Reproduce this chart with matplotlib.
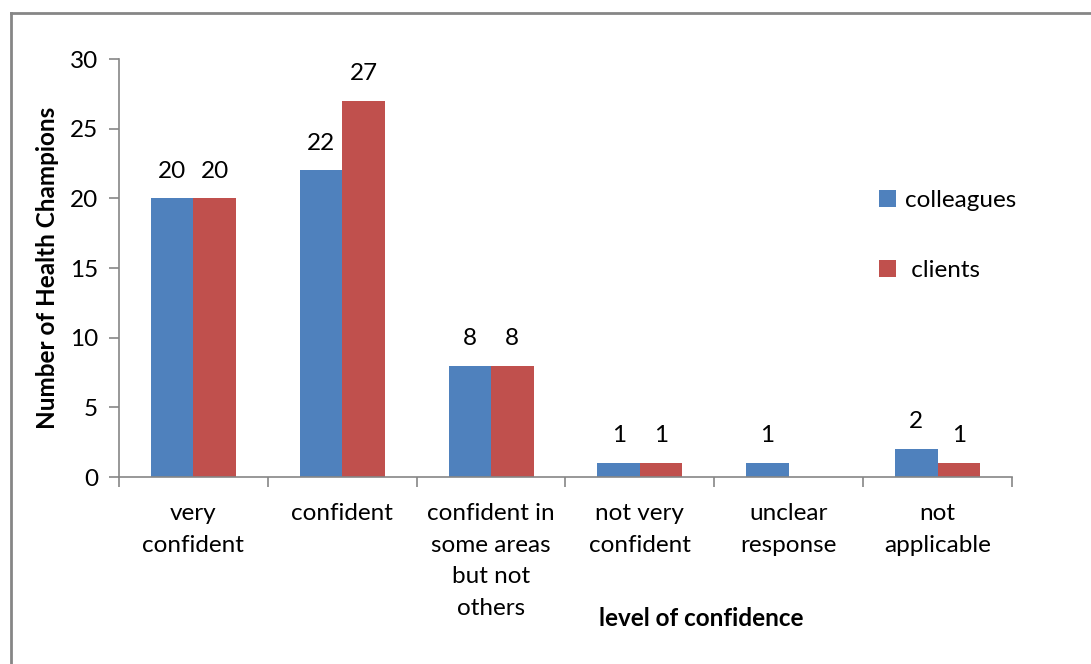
import numpy as np
import matplotlib.pyplot as plt
from matplotlib.lines import Line2D

categories = ["very\nconfident", "confident", "confident in\nsome areas\nbut not\nothers",
              "not very\nconfident", "unclear\nresponse", "not\napplicable"]
colleagues = [20, 22, 8, 1, 1, 2]
clients = [20, 27, 8, 1, 0, 1]

plt.rcParams['font.family'] = ['Lato', 'DejaVu Sans']
fs = 17.5

fig = plt.figure(figsize=(10.91, 6.64), dpi=100)
ax = fig.add_axes([0.109, 0.2816, 0.8186, 0.6295])

x = np.arange(len(categories))
w = 1 / 3.5
blue = '#4f81bd'
red = '#c0504d'
ax.bar(x - w / 2, colleagues, w, color=blue, label='colleagues')
ax.bar(x + w / 2, clients, w, color=red, label=' clients')

for i in range(len(categories)):
    ax.text(x[i] - w / 2, colleagues[i] + 1.2, str(colleagues[i]), ha='center', va='bottom', fontsize=fs)
    if clients[i] > 0:
        ax.text(x[i] + w / 2, clients[i] + 1.2, str(clients[i]), ha='center', va='bottom', fontsize=fs)

ax.set_xlim(-0.5, len(categories) - 0.5)
ax.set_ylim(0, 30)
ax.set_yticks(range(0, 31, 5))
ax.set_xticks(np.arange(-0.5, len(categories), 1))
ax.set_xticklabels([])
ax.set_xticks(x, minor=True)
ax.set_xticklabels(categories, minor=True, fontsize=fs, va='top', linespacing=1.62)
ax.tick_params(axis='x', which='minor', length=0, pad=19)
ax.tick_params(axis='x', which='major', length=7, color='#868686', width=1.2)
ax.tick_params(axis='y', length=7, color='#868686', width=1.2, labelsize=fs, pad=8)

for s in ['top', 'right']:
    ax.spines[s].set_visible(False)
for s in ['left', 'bottom']:
    ax.spines[s].set_color('#868686')
    ax.spines[s].set_linewidth(1.2)

ax.set_ylabel("Number of Health Champions", fontsize=fs, fontweight='bold', labelpad=8)
fig.text(0.643, 0.068, "level of confidence", ha='center', va='center', fontsize=fs, fontweight='bold')

ax.legend(loc='upper left', bbox_to_anchor=(0.827, 0.738), frameon=False, fontsize=fs,
          handlelength=0.7, handleheight=0.7, handletextpad=0.35, labelspacing=2.0)

# outer chart border (only left and top fall inside the picture)
fig.add_artist(Line2D([0.0105, 0.0105], [0, 0.981], color='#868686', lw=2, transform=fig.transFigure))
fig.add_artist(Line2D([0.0105, 1], [0.981, 0.981], color='#868686', lw=2, transform=fig.transFigure))

fig.savefig('out.png', dpi=100)
